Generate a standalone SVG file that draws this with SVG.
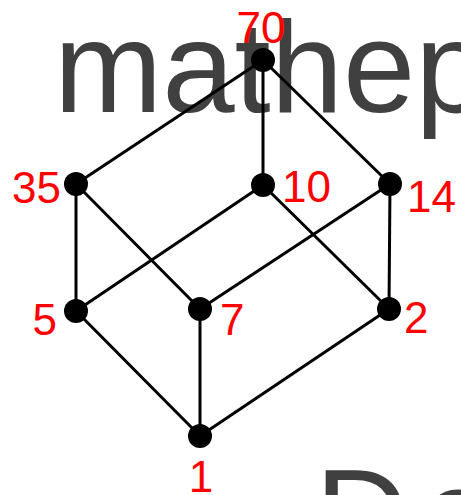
<svg xmlns="http://www.w3.org/2000/svg" width="461" height="495" viewBox="0 0 461 495">
<style>
.bg{font-family:"Liberation Sans",Arial,sans-serif;font-size:130px;fill:#404040}
.e{stroke:#000;stroke-width:3;fill:none}
.n{fill:#000}
.l{font-family:"Liberation Sans",Arial,sans-serif;font-size:44px;fill:#ff0000}
</style>
<rect width="461" height="495" fill="#fff"/>
<text class="bg" x="54" y="112">mathep</text>
<text class="bg" x="315" y="560">D<tspan x="422">e</tspan></text>
<g id="connectors">
<line class="e" x1="263" y1="60" x2="76" y2="184"/>
<line class="e" x1="263" y1="60" x2="263" y2="185"/>
<line class="e" x1="263" y1="60" x2="390" y2="184"/>
<line class="e" x1="76" y1="184" x2="76" y2="311"/>
<line class="e" x1="76" y1="184" x2="200" y2="309"/>
<line class="e" x1="263" y1="185" x2="76" y2="311"/>
<line class="e" x1="263" y1="185" x2="389" y2="309"/>
<line class="e" x1="390" y1="184" x2="200" y2="309"/>
<line class="e" x1="390" y1="184" x2="389" y2="309"/>
<line class="e" x1="76" y1="311" x2="200" y2="436"/>
<line class="e" x1="200" y1="309" x2="200" y2="436"/>
<line class="e" x1="389" y1="309" x2="200" y2="436"/>
</g>
<g id="n70"><circle class="n" cx="263" cy="60" r="12"/><text class="l" x="261" y="43" text-anchor="middle">70</text></g>
<g id="n35"><circle class="n" cx="76" cy="184" r="12"/><text class="l" x="61" y="203" text-anchor="end">35</text></g>
<g id="n10"><circle class="n" cx="263" cy="185" r="12"/><text class="l" x="282" y="202">10</text></g>
<g id="n14"><circle class="n" cx="390" cy="184" r="12"/><text class="l" x="407" y="212">14</text></g>
<g id="n5"><circle class="n" cx="76" cy="311" r="12"/><text class="l" x="57" y="335" text-anchor="end">5</text></g>
<g id="n7"><circle class="n" cx="200" cy="309" r="12"/><text class="l" x="220" y="335">7</text></g>
<g id="n2"><circle class="n" cx="389" cy="309" r="12"/><text class="l" x="404" y="333">2</text></g>
<g id="n1"><circle class="n" cx="200" cy="436" r="12"/><text class="l" x="201" y="492" text-anchor="middle">1</text></g>
</svg>
